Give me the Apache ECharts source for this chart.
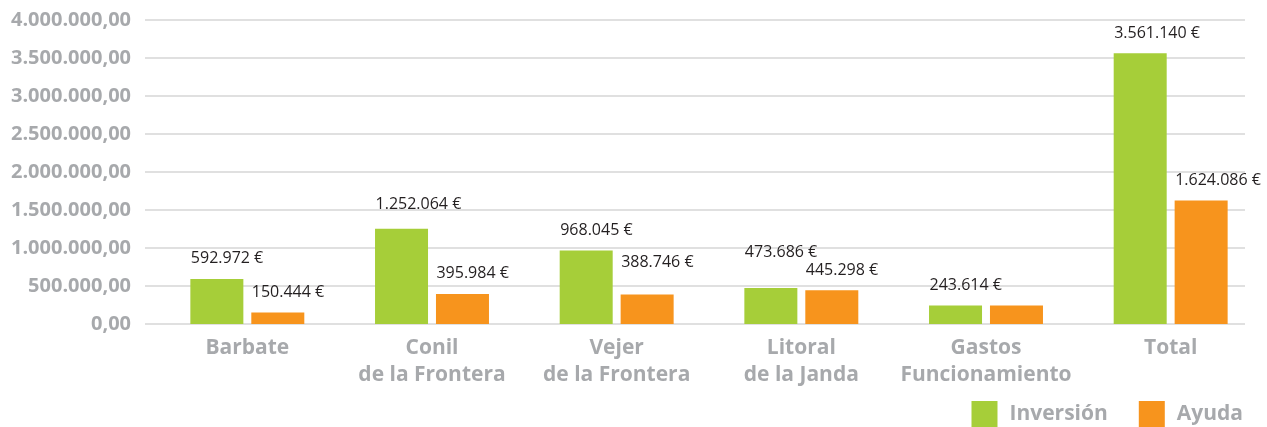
<!DOCTYPE html>
<html>
<head>
<meta charset="utf-8">
<script src="https://cdn.jsdelivr.net/npm/echarts@6/dist/echarts.min.js"></script>
<style>
  html, body { margin: 0; padding: 0; background: #fff; }
  #chart { width: 1267px; height: 427px; }
</style>
</head>
<body>
<div id="chart"></div>
<script>
// datos del gráfico
var categories = ["Barbate", "Conil\nde la Frontera", "Vejer\nde la Frontera", "Litoral\nde la Janda", "Gastos\nFuncionamiento", "Total"];
var inversion = [592972, 1252064, 968045, 473686, 243614, 3561140];
var ayuda = [150444, 395984, 388746, 445298, 243614, 1624086];
var ayudaLabelShown = [true, true, true, true, false, true];
var yTicks = {min: 0, max: 4000000, interval: 500000};

// etiquetas que en el original están subidas a mano (px)
var raiseInversion = {1: 4, 3: 16},
    raiseAyuda = {2: 12};

var green = "#a6ce39",
    orange = "#f7941d",
    gray = "#a7a9ac",
    font = "Open Sans";

var miles = function (n) {
    return String(Math.round(n)).replace(/\B(?=(\d{3})+(?!\d))/g, ".");
};

var barLabel = function (raise) {
    return {
        show: true,
        position: "top",
        align: "left",
        distance: 12 + (raise || 0),
        offset: [-26, 0],
        color: "#231f20",
        fontFamily: font,
        fontSize: 16,
        formatter: function (p) { return miles(p.value) + " €"; }
    };
};

var chart = echarts.init(document.getElementById("chart"));

chart.setOption({
    animation: false,
    legend: {
        right: 24,
        top: 401,
        itemWidth: 26,
        itemHeight: 26,
        itemGap: 31,
        padding: 0,
        icon: "rect",
        textStyle: {color: gray, fontFamily: font, fontSize: 21, fontWeight: "bold", padding: [0, 0, 0, 7]},
        data: ["Inversión", "Ayuda"]
    },
    grid: [
        {left: 145, right: 22, top: 20, height: 304},
        {left: 155, right: 4, top: 20, height: 304}
    ],
    xAxis: [
        {gridIndex: 0, type: "value", min: 0, max: 1, show: false},
        {
            gridIndex: 1,
            type: "category",
            data: categories,
            axisLine: {show: false},
            axisTick: {show: false},
            axisLabel: {
                interval: 0,
                margin: 11,
                color: gray,
                fontFamily: font,
                fontSize: 21,
                fontWeight: "bold",
                lineHeight: 27
            }
        }
    ],
    yAxis: [
        {
            gridIndex: 0,
            type: "value",
            min: yTicks.min,
            max: yTicks.max,
            interval: yTicks.interval,
            axisLine: {show: false},
            axisTick: {show: false},
            splitLine: {lineStyle: {color: "#d6d6d6", width: 1.5}},
            axisLabel: {
                margin: 14,
                color: gray,
                fontFamily: font,
                fontSize: 20,
                fontWeight: "bold",
                formatter: function (v) { return miles(v) + ",00"; }
            }
        },
        {gridIndex: 1, type: "value", min: yTicks.min, max: yTicks.max, show: false}
    ],
    series: [
        {
            name: "Inversión",
            type: "bar",
            xAxisIndex: 1,
            yAxisIndex: 1,
            barWidth: 53,
            barGap: "15%",
            itemStyle: {color: green},
            label: barLabel(0),
            data: inversion.map(function (v, i) {
                return {value: v, label: barLabel(raiseInversion[i])};
            })
        },
        {
            name: "Ayuda",
            type: "bar",
            xAxisIndex: 1,
            yAxisIndex: 1,
            barWidth: 53,
            barGap: "15%",
            itemStyle: {color: orange},
            label: barLabel(0),
            data: ayuda.map(function (v, i) {
                var l = barLabel(raiseAyuda[i]);
                l.show = ayudaLabelShown[i];
                return {value: v, label: l};
            })
        }
    ]
});
</script>
</body>
</html>
